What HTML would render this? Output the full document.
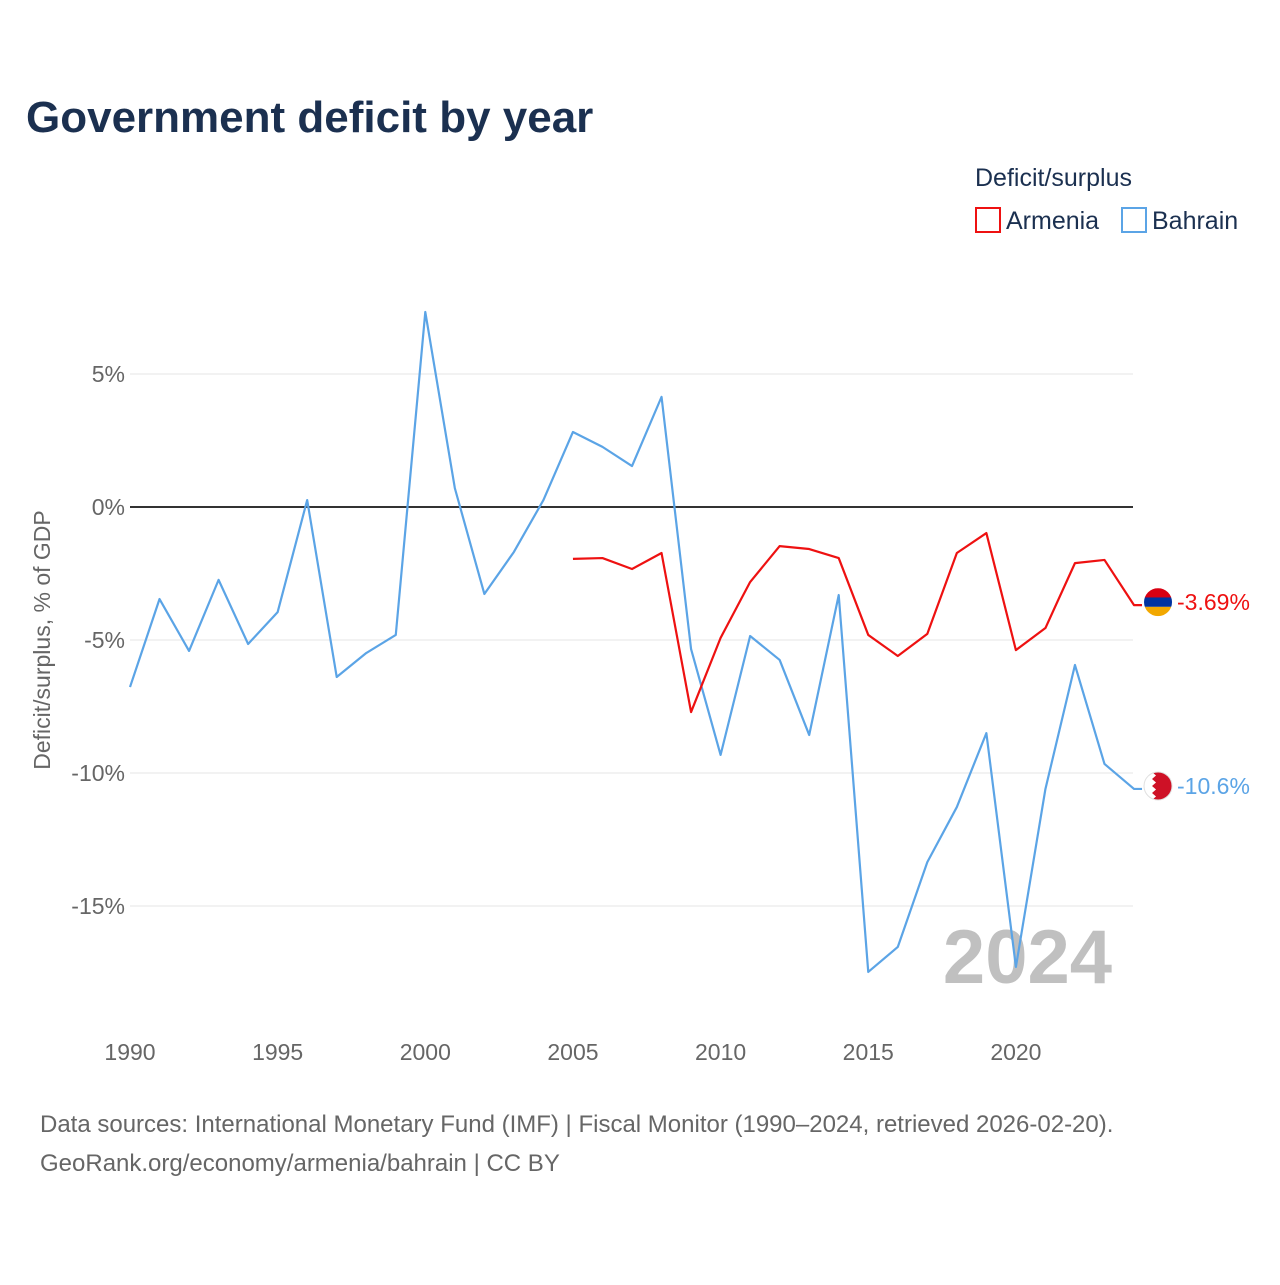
<!DOCTYPE html>
<html><head><meta charset="utf-8"><style>
body{margin:0;background:#fff;font-family:"Liberation Sans",sans-serif;}
svg text{font-family:"Liberation Sans",sans-serif;}
</style></head><body>
<svg id="chart" width="1280" height="1280" viewBox="0 0 1280 1280">
<text x="26" y="132" font-size="44" font-weight="bold" fill="#1b3050">Government deficit by year</text>
<text x="975" y="186" font-size="25" fill="#1b3050">Deficit/surplus</text>
<g><rect x="976" y="208" width="24" height="24" fill="none" stroke="#ee1111" stroke-width="2"/><text x="1006" y="229" font-size="25" fill="#1b3050">Armenia</text></g>
<g><rect x="1122" y="208" width="24" height="24" fill="none" stroke="#5ba4e6" stroke-width="2"/><text x="1152" y="229" font-size="25" fill="#1b3050">Bahrain</text></g>
<text transform="translate(50,640) rotate(-90)" text-anchor="middle" font-size="23" fill="#666">Deficit/surplus, % of GDP</text>
<g id="grid"></g>
<text x="1112" y="983" text-anchor="end" font-size="76" font-weight="bold" fill="#c0c0c0">2024</text>
<g id="series"></g>
<text x="40" y="1132" font-size="24" fill="#666">Data sources: International Monetary Fund (IMF) | Fiscal Monitor (1990–2024, retrieved 2026-02-20).</text>
<text x="40" y="1171" font-size="24" fill="#666">GeoRank.org/economy/armenia/bahrain | CC BY</text>
</svg>
<script>
const years=[1990,1991,1992,1993,1994,1995,1996,1997,1998,1999,2000,2001,2002,2003,2004,2005,2006,2007,2008,2009,2010,2011,2012,2013,2014,2015,2016,2017,2018,2019,2020,2021,2022,2023,2024];
const bahrain=[-6.77,-3.46,-5.41,-2.74,-5.15,-3.95,0.26,-6.39,-5.49,-4.81,7.33,0.71,-3.27,-1.69,0.26,2.82,2.26,1.54,4.14,-5.34,-9.32,-4.85,-5.75,-8.57,-3.31,-17.48,-16.54,-13.35,-11.28,-8.5,-17.29,-10.6,-5.94,-9.66,-10.6];
const armeniaYears=[2005,2006,2007,2008,2009,2010,2011,2012,2013,2014,2015,2016,2017,2018,2019,2020,2021,2022,2023,2024];
const armenia=[-1.95,-1.92,-2.33,-1.73,-7.71,-4.92,-2.82,-1.47,-1.58,-1.92,-4.81,-5.6,-4.77,-1.73,-0.98,-5.38,-4.55,-2.11,-1.99,-3.69];
const yTicks=[5,0,-5,-10,-15];
const yTickLabels=["5%","0%","-5%","-10%","-15%"];
const xTicks=[1990,1995,2000,2005,2010,2015,2020];
const NS="http://www.w3.org/2000/svg";
const X=y=>130+(y-1990)*29.53;
const Y=v=>507-v*26.6;
const grid=document.getElementById('grid'),ser=document.getElementById('series');
function mk(tag,at,parent){const e=document.createElementNS(NS,tag);for(const k in at)e.setAttribute(k,at[k]);parent.appendChild(e);return e;}
yTicks.forEach((t,i)=>{
  const l=mk('line',{x1:130,x2:1133,y1:Y(t),y2:Y(t),stroke:t===0?'#333':'#e6e6e6','stroke-width':t===0?2:1},grid);
  
  
  const tx=mk('text',{x:125,y:Y(t)+8,'text-anchor':'end','font-size':23,fill:'#666'},grid);
  tx.textContent=yTickLabels[i];
  
  
});
xTicks.forEach(t=>{
  const tx=mk('text',{x:X(t),y:1060,'text-anchor':'middle','font-size':23,fill:'#666'},grid);
  tx.textContent=t;
  
  
});
function line(xs,vs,color,name){
  const pts=xs.map((x,i)=>X(x)+','+Y(vs[i]));
  pts.push((X(xs[xs.length-1])+8)+','+Y(vs[vs.length-1]));
  const p=mk('polyline',{points:pts.join(' '),fill:'none',stroke:color,'stroke-width':2.2,'stroke-linejoin':'round'},ser);
  
  
}
line(years,bahrain,'#5ba4e6','bahrain-line');
line(armeniaYears,armenia,'#ee1111','armenia-line');
const ax=X(2024), aY=Y(armenia[armenia.length-1])-3, bY=Y(bahrain[bahrain.length-1])-3;
const fa=mk('g',{},ser);


mk('clipPath',{id:'ca'},fa).appendChild(document.createElementNS(NS,'circle'));
const ca=document.querySelector('#ca circle');ca.setAttribute('cx',ax+24);ca.setAttribute('cy',aY);ca.setAttribute('r',14);
[['#d90012',-14],['#0033a0',-4.7],['#f2a800',4.7]].forEach(([c,o])=>mk('rect',{x:ax+10,y:aY+o,width:28,height:9.4,fill:c,'clip-path':'url(#ca)'},fa));
const ta=mk('text',{x:ax+43,y:aY+8,'font-size':23,fill:'#ee1111'},ser);
ta.textContent=(armenia[armenia.length-1]).toFixed(2)+'%';


const fb=mk('g',{},ser);


mk('circle',{cx:ax+24,cy:bY,r:14,fill:'#ce1126'},fb);
mk('path',{d:`M${ax+10} ${bY-14} h8 l4 3.5 -4 3.5 4 3.5 -4 3.5 4 3.5 -4 3.5 4 3.5 -4 3.5 h-8 z`,fill:'#fff'},fb);
mk('circle',{cx:ax+24,cy:bY,r:14,fill:'none',stroke:'#e0e0e0','stroke-width':1},fb);
const tb=mk('text',{x:ax+43,y:bY+8,'font-size':23,fill:'#5ba4e6'},ser);
tb.textContent=(bahrain[bahrain.length-1]).toFixed(1)+'%';


</script>
</body></html>
